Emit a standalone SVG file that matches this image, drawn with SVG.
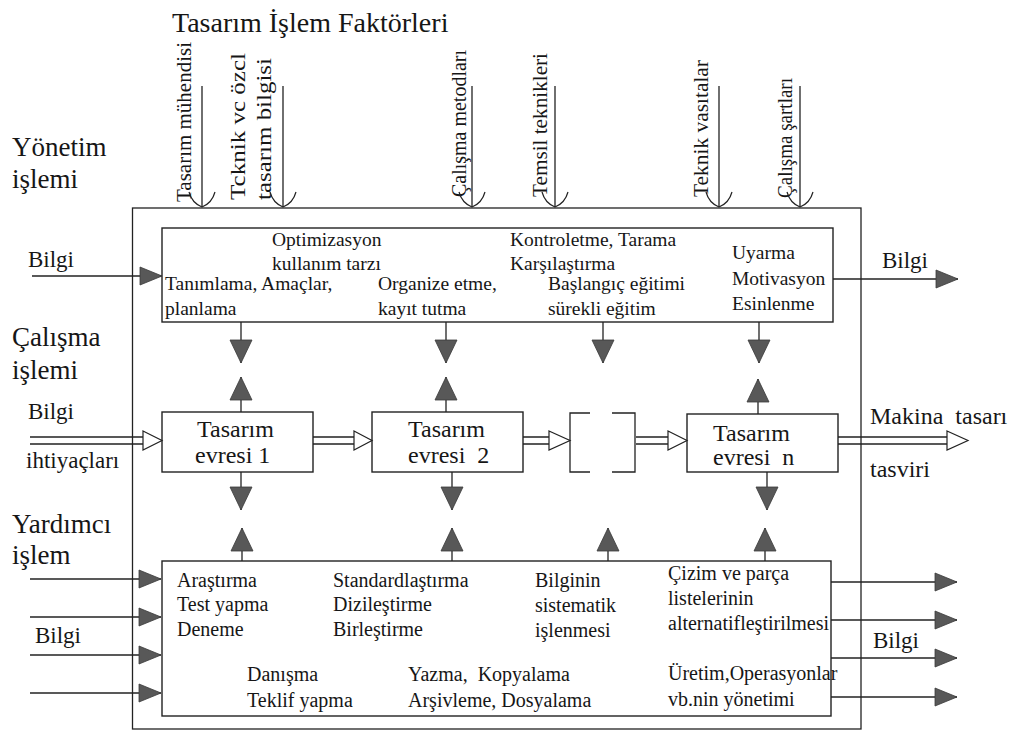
<svg xmlns="http://www.w3.org/2000/svg" width="1012" height="731" viewBox="0 0 1012 731" font-family="'Liberation Serif', serif">
  <style>
    text { font-family: 'Liberation Serif', 'Times New Roman', serif; fill: #161616; }
    .big { font-size: 27px; }
    .title { font-size: 28px; }
    .io { font-size: 23px; }
    .out { font-size: 24px; }
    .ph { font-size: 24px; }
    .tx { font-size: 19.5px; }
    .tl { font-size: 20px; }
    .vt { font-size: 20px; }
    .frame { fill: none; stroke: #222; stroke-width: 1.3; }
    .box { fill: #fff; stroke: #222; stroke-width: 1.4; }
    .ln { fill: none; stroke: #222; stroke-width: 1.3; }
    .hol { fill: #fff; stroke: #222; stroke-width: 1.2; stroke-linejoin: miter; }
  </style>
  <defs>
    <!-- filled grey head for horizontal flows -->
    <marker id="fh" markerUnits="userSpaceOnUse" markerWidth="24" markerHeight="20" viewBox="0 0 24 20" refX="23" refY="10" orient="auto" overflow="visible">
      <path d="M1,1 L23,10 L1,19 Z" fill="#585858" stroke="#3a3a3a" stroke-width="0.8"/>
    </marker>
    <!-- filled grey head for vertical flows -->
    <marker id="fv" markerUnits="userSpaceOnUse" markerWidth="24" markerHeight="24" viewBox="0 0 24 24" refX="23" refY="12" orient="auto" overflow="visible">
      <path d="M0,1 L23,12 L0,23 Z" fill="#585858" stroke="#3a3a3a" stroke-width="0.8"/>
    </marker>
    <!-- open curved head for the factor inputs -->
    <marker id="ov" markerUnits="userSpaceOnUse" markerWidth="16" markerHeight="26" viewBox="0 0 16 26" refX="15" refY="13" orient="auto" overflow="visible">
      <path d="M0,0 Q11,3 15,13 Q11,23 0,26" fill="none" stroke="#222" stroke-width="1.2"/>
    </marker>
  </defs>

  <!-- title and side captions -->
  <text class="title" x="172" y="32">Tasarım İşlem Faktörleri</text>
  <text class="big" x="12" y="156">Yönetim</text>
  <text class="big" x="12" y="188">işlemi</text>
  <text class="big" x="12" y="346">Çalışma</text>
  <text class="big" x="12" y="379">işlemi</text>
  <text class="big" x="12" y="533">Yardımcı</text>
  <text class="big" x="12" y="564">işlem</text>

  <!-- factor labels, written upward -->
  <g id="factors">
    <text class="vt" transform="translate(191,202) rotate(-90)" textLength="160" lengthAdjust="spacingAndGlyphs">Tasarım mühendisi</text>
    <text class="vt" transform="translate(245,200) rotate(-90)" textLength="147" lengthAdjust="spacingAndGlyphs">Tcknik vc özcl</text>
    <text class="vt" transform="translate(271,200) rotate(-90)" textLength="142" lengthAdjust="spacingAndGlyphs">tasarım bilgisi</text>
    <text class="vt" transform="translate(466,197) rotate(-90)" textLength="147" lengthAdjust="spacingAndGlyphs">Çalışma metodları</text>
    <text class="vt" transform="translate(547,197) rotate(-90)" textLength="144" lengthAdjust="spacingAndGlyphs">Temsil teknikleri</text>
    <text class="vt" transform="translate(708,197) rotate(-90)" textLength="137" lengthAdjust="spacingAndGlyphs">Teknik vasıtalar</text>
    <text class="vt" transform="translate(792,198) rotate(-90)" textLength="120" lengthAdjust="spacingAndGlyphs">Çalışma şartları</text>
  </g>

  <!-- outer process frame -->
  <rect id="frame" class="frame" x="132.5" y="208" width="728.5" height="521"/>

  <!-- management process box -->
  <g id="management">
    <rect class="box" x="162" y="228" width="671" height="94"/>
    <text class="tx" x="272" y="246">Optimizasyon</text>
    <text class="tx" x="272" y="270">kullanım tarzı</text>
    <text class="tx" x="165" y="290">Tanımlama, Amaçlar,</text>
    <text class="tx" x="165" y="315">planlama</text>
    <text class="tx" x="378" y="290">Organize etme,</text>
    <text class="tx" x="378" y="315">kayıt tutma</text>
    <text class="tx" x="510" y="246">Kontroletme, Tarama</text>
    <text class="tx" x="510" y="270">Karşılaştırma</text>
    <text class="tx" x="548" y="290">Başlangıç eğitimi</text>
    <text class="tx" x="548" y="315">sürekli eğitim</text>
    <text class="tx" x="732" y="259">Uyarma</text>
    <text class="tx" x="732" y="285">Motivasyon</text>
    <text class="tx" x="732" y="310">Esinlenme</text>
  </g>

  <!-- design phases -->
  <g id="phase1">
    <rect class="box" x="162" y="412" width="151" height="60"/>
    <text class="ph" x="197" y="437">Tasarım</text>
    <text class="ph" x="195" y="463">evresi 1</text>
  </g>
  <g id="phase2">
    <rect class="box" x="372" y="412" width="151" height="60"/>
    <text class="ph" x="408" y="437">Tasarım</text>
    <text class="ph" x="408" y="463" xml:space="preserve">evresi  2</text>
  </g>
  <g id="phase-gap">
    <path class="ln" d="M590,413 H570 V472 H590 M612,413 H635 V472 H612"/>
  </g>
  <g id="phaseN">
    <rect class="box" x="687" y="414" width="151" height="58"/>
    <text class="ph" x="713" y="441">Tasarım</text>
    <text class="ph" x="713" y="465" xml:space="preserve">evresi  n</text>
  </g>

  <!-- support process box -->
  <g id="support">
    <rect class="box" x="162" y="561" width="669" height="155"/>
    <text class="tl" x="177" y="587">Araştırma</text>
    <text class="tl" x="177" y="611">Test yapma</text>
    <text class="tl" x="177" y="636">Deneme</text>
    <text class="tl" x="333" y="587">Standardlaştırma</text>
    <text class="tl" x="333" y="611">Dizileştirme</text>
    <text class="tl" x="333" y="636">Birleştirme</text>
    <text class="tl" x="535" y="587">Bilginin</text>
    <text class="tl" x="535" y="612">sistematik</text>
    <text class="tl" x="535" y="637">işlenmesi</text>
    <text class="tl" x="668" y="580">Çizim ve parça</text>
    <text class="tl" x="668" y="605">listelerinin</text>
    <text class="tl" x="668" y="630">alternatifleştirilmesi</text>
    <text class="tl" x="247" y="681">Danışma</text>
    <text class="tl" x="247" y="707">Teklif yapma</text>
    <text class="tl" x="408" y="681" xml:space="preserve">Yazma,  Kopyalama</text>
    <text class="tl" x="408" y="707">Arşivleme, Dosyalama</text>
    <text class="tl" x="668" y="680">Üretim,Operasyonlar</text>
    <text class="tl" x="668" y="706">vb.nin yönetimi</text>
  </g>

  <!-- flow labels -->
  <g id="flow-labels">
    <text class="io" x="28" y="267">Bilgi</text>
    <text class="io" x="882" y="268">Bilgi</text>
    <text class="io" x="28" y="419">Bilgi</text>
    <text class="io" x="26" y="468">ihtiyaçları</text>
    <text class="out" x="870" y="424" xml:space="preserve">Makina  tasarı</text>
    <text class="out" x="870" y="477">tasviri</text>
    <text class="io" x="35" y="643">Bilgi</text>
    <text class="io" x="873" y="648">Bilgi</text>
  </g>

  <g id="connectors">
    <!-- factor inputs -->
    <g class="ln" marker-end="url(#ov)">
      <line x1="202" y1="86" x2="202" y2="207"/>
      <line x1="283" y1="86" x2="283" y2="207"/>
      <line x1="472" y1="86" x2="472" y2="207"/>
      <line x1="555" y1="86" x2="555" y2="207"/>
      <line x1="719" y1="86" x2="719" y2="207"/>
      <line x1="800" y1="86" x2="800" y2="207"/>
    </g>

    <!-- information in / out -->
    <g class="ln" marker-end="url(#fh)">
      <line x1="32" y1="276" x2="162" y2="276"/>
      <line x1="833" y1="279" x2="958" y2="279"/>
      <line x1="30" y1="579" x2="161" y2="579"/>
      <line x1="30" y1="617" x2="161" y2="617"/>
      <line x1="30" y1="655" x2="161" y2="655"/>
      <line x1="30" y1="693" x2="161" y2="693"/>
      <line x1="831" y1="582" x2="957" y2="582"/>
      <line x1="831" y1="620" x2="957" y2="620"/>
      <line x1="831" y1="658" x2="957" y2="658"/>
      <line x1="831" y1="697" x2="957" y2="697"/>
    </g>

    <!-- management to phases -->
    <g class="ln" marker-end="url(#fv)">
      <line x1="241" y1="322" x2="241" y2="363"/>
      <line x1="446" y1="322" x2="446" y2="363"/>
      <line x1="603" y1="322" x2="603" y2="363"/>
      <line x1="759" y1="322" x2="759" y2="363"/>
      <!-- phases back to management -->
      <line x1="241" y1="412" x2="241" y2="377"/>
      <line x1="446" y1="412" x2="446" y2="377"/>
      <line x1="758" y1="414" x2="758" y2="379"/>
      <!-- phases to support -->
      <line x1="241" y1="472" x2="241" y2="510"/>
      <line x1="452" y1="472" x2="452" y2="510"/>
      <line x1="767" y1="472" x2="767" y2="510"/>
      <!-- support back to phases -->
      <line x1="242" y1="561" x2="242" y2="528"/>
      <line x1="452" y1="561" x2="452" y2="528"/>
      <line x1="608" y1="561" x2="608" y2="528"/>
      <line x1="765" y1="561" x2="765" y2="528"/>
    </g>

    <!-- double-line flow through the phases -->
    <g class="ln">
      <path d="M30,437 H143 M30,444 H143"/>
      <path d="M313,437 H354 M313,444 H354"/>
      <path d="M523,437 H549 M523,444 H549"/>
      <path d="M636,437 H668 M636,444 H668"/>
      <path d="M838,437 H947 M838,444 H947"/>
    </g>
    <g class="hol">
      <path d="M143,431 L162,440.5 L143,450 Z"/>
      <path d="M354,431 L372,440.5 L354,450 Z"/>
      <path d="M549,431 L570,440.5 L549,450 Z"/>
      <path d="M668,431 L687,440.5 L668,450 Z"/>
      <path d="M947,431 L968,440.5 L947,450 Z"/>
    </g>
  </g>
</svg>
